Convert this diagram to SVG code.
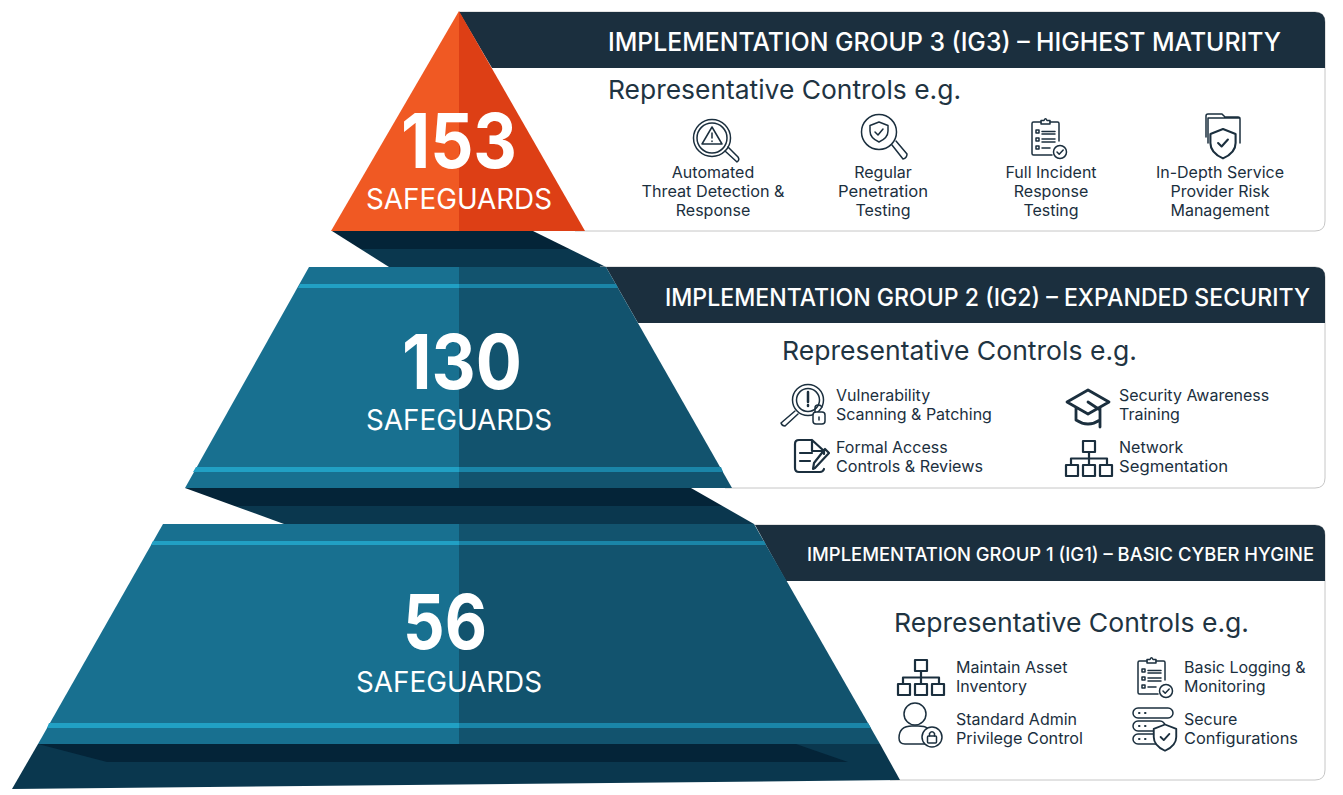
<svg xmlns="http://www.w3.org/2000/svg" width="1343" height="795" viewBox="0 0 1343 795">
<style>
text{font-family:"Inter","Liberation Sans",sans-serif}
.card{fill:#fff;stroke:#c6c6c6;stroke-width:1}
.hd{fill:#1b2f3e}
.ht{fill:#fff;font-weight:500}
.rc{fill:#1f3442;font-size:26px}
.sm{fill:#1b2f3e;font-size:16px}
.c{text-anchor:middle}
.num{fill:#fff;font-size:76px;font-weight:700;text-anchor:middle}
.sg{fill:#fff;font-size:28.500px;text-anchor:middle}
.ic{fill:none;stroke:#1b2f3e;stroke-width:1.5;stroke-linecap:round;stroke-linejoin:round}
.ib{fill:none;stroke:#1b2f3e;stroke-width:2.200;stroke-linecap:round;stroke-linejoin:round}
.tl{fill:#187090}.td{fill:#12536e}.sl{fill:#21a0c4}.sd{fill:#1a85a8}
.s1{fill:#042438}.s2{fill:#0a374e}
</style>
<defs>
<g id="net" class="ib"><rect x="18" y="1" width="12" height="11"/><path d="M24 12V24M6 24V18.500H42V24"/><rect x="1" y="25" width="12" height="11"/><rect x="18" y="25" width="12" height="11"/><rect x="35" y="25" width="12" height="11"/></g>
<g id="clip" class="ic"><path d="M10 5H2.500Q1 5 1 6.500V36.500Q1 38 2.500 38H21M28 24V6.500Q28 5 26.500 5H19"/><path d="M10 7V3.500H13Q14.500 0 16 3.500H19V7Z"/><path d="M5 13h3v3h-3zM5 21h3v3h-3zM5 29h3v3h-3zM11 14.500H24M11 17H24M11 22H24M11 25H24M11 31H19"/><circle cx="29" cy="35" r="6.500" fill="#fff"/><path d="M26 35l2.200 2.300 4-4.300"/></g>
<g id="shield" class="ic"><path d="M0-10L9-6.500V0Q9 7 0 11Q-9 7-9 0V-6.500Z" fill="#fff"/><path d="M-3.500 0L-1 2.500 3.500-2.500"/></g>
</defs>

<g id="connectors">
<polygon class="s2" points="360.500,249 569.500,249 606,267 389,267"/>
<polygon class="s1" points="332,231 533,231 569.500,249 360.500,249"/>
<polygon class="s2" points="234.500,506 722.500,506 754,524 284,524"/>
<polygon class="s1" points="185,488 691,488 722.500,506 234.500,506"/>
</g>

<g id="ig3">
<path class="card" d="M459 12H1315Q1325 12 1325 22V221Q1325 231 1315 231H575Z"/>
<path class="hd" d="M459 12H1315Q1325 12 1325 22V68H492Z"/>
<polygon fill="#f05923" points="459,11 331,231 459,231"/>
<polygon fill="#dd3f15" points="459,11 585,231 459,231"/>
<text class="num" x="459" y="168" textLength="116" lengthAdjust="spacingAndGlyphs">153</text>
<text class="sg" x="459" y="209" textLength="186" lengthAdjust="spacingAndGlyphs">SAFEGUARDS</text>
<text class="ht" x="608" y="51" font-size="25" textLength="673" lengthAdjust="spacingAndGlyphs">IMPLEMENTATION GROUP 3 (IG3) – HIGHEST MATURITY</text>
<text class="rc" x="608" y="99" textLength="353" lengthAdjust="spacingAndGlyphs">Representative Controls e.g.</text>
<g class="ic"><circle cx="712" cy="138" r="18.500"/><circle cx="712" cy="138" r="15"/><path d="M712 127L722 144H702ZM712 133V138M712 141V141.500M725 151L737 162Q740 160 738 157L728 147"/></g>
<g class="ic"><circle cx="879" cy="132" r="17.500"/><path d="M879 122L888 125.500V131Q888 138 879 142Q870 138 870 131V125.500ZM875 132L878 135 883 129M892 145L903 159Q907 158 907 154L896 141"/></g>
<use href="#clip" x="1031" y="117"/>
<g class="ic"><path d="M1206 137V116Q1206 114 1208 114H1222L1225 117H1238Q1240 117 1240 119V143M1208 143V118H1240"/></g><use href="#shield" transform="translate(1223 143) scale(1.400)"/>
<text class="sm c" x="713" y="178">Automated</text><text class="sm c" x="713" y="197" textLength="143" lengthAdjust="spacingAndGlyphs">Threat Detection &amp;</text><text class="sm c" x="713" y="216">Response</text>
<text class="sm c" x="883" y="178">Regular</text><text class="sm c" x="883" y="197" textLength="90" lengthAdjust="spacingAndGlyphs">Penetration</text><text class="sm c" x="883" y="216">Testing</text>
<text class="sm c" x="1051" y="178">Full Incident</text><text class="sm c" x="1051" y="197">Response</text><text class="sm c" x="1051" y="216">Testing</text>
<text class="sm c" x="1220" y="178">In-Depth Service</text><text class="sm c" x="1220" y="197">Provider Risk</text><text class="sm c" x="1220" y="216">Management</text>
</g>

<g id="ig2">
<path class="card" d="M600 267H1315Q1325 267 1325 277V478Q1325 488 1315 488H725Z"/>
<path class="hd" d="M606 267H1315Q1325 267 1325 277V323H638Z"/>
<polygon class="tl" points="309,267 459,267 459,488 185,488"/>
<polygon class="td" points="459,267 606,267 732,488 459,488"/>
<polygon class="sl" points="300,284 459,284 459,288 298,288"/>
<polygon class="sd" points="459,284 616,284 618,288 459,288"/>
<polygon class="sl" points="196,467 459,467 459,472 193,472"/>
<polygon class="sd" points="459,467 721,467 723,472 459,472"/>
<text class="num" x="462" y="389" textLength="120" lengthAdjust="spacingAndGlyphs">130</text>
<text class="sg" x="459" y="430" textLength="186" lengthAdjust="spacingAndGlyphs">SAFEGUARDS</text>
<text class="ht" x="665" y="306" font-size="24" textLength="645" lengthAdjust="spacingAndGlyphs">IMPLEMENTATION GROUP 2 (IG2) – EXPANDED SECURITY</text>
<text class="rc" x="782" y="360" textLength="355" lengthAdjust="spacingAndGlyphs">Representative Controls e.g.</text>
<g class="ic"><circle cx="808" cy="400" r="15.500"/><circle cx="808" cy="400" r="11.500"/><path d="M795 411L781 423Q782 426 785 426L798 414"/><path d="M808 392V402M808 405V406" stroke-width="2.500"/><rect x="813" y="412" width="12" height="12" rx="3" fill="#fff"/><path d="M815 412V408Q815 405 818 405Q821 405 822 407M819 417V420"/></g>
<g class="ib" style="stroke-width:2.800"><path d="M1088 390L1109 402 1088 414 1067 402ZM1076 408V420Q1088 428 1100 420V408M1088 402L1100 410V427"/></g>
<g class="ib"><path d="M812 440H799Q795 440 795 444V468Q795 472 799 472H820Q823 472 824 469M812 440L824 451V454M812 440V451H824M800 453H812M800 461H810M815 468L829 453 825 449 814 463 813 469Z"/></g>
<use href="#net" x="1065" y="440"/>
<text class="sm" x="836" y="401">Vulnerability</text><text class="sm" x="836" y="420">Scanning &amp; Patching</text>
<text class="sm" x="836" y="453">Formal Access</text><text class="sm" x="836" y="472" textLength="147" lengthAdjust="spacingAndGlyphs">Controls &amp; Reviews</text>
<text class="sm" x="1119" y="401">Security Awareness</text><text class="sm" x="1119" y="420">Training</text>
<text class="sm" x="1119" y="453">Network</text><text class="sm" x="1119" y="472" textLength="109" lengthAdjust="spacingAndGlyphs">Segmentation</text>
</g>

<g id="ig1">
<path class="card" d="M750 525H1315Q1325 525 1325 535V770Q1325 780 1315 780H890Z"/>
<path class="hd" d="M755 525H1315Q1325 525 1325 535V581H786Z"/>
<polygon class="s2" points="38,744 880,744 900,780 12,789"/>
<polygon class="s1" points="38,744 796,744 848,762 107,762"/>
<polygon class="tl" points="163,524 459,524 459,744 38,744"/>
<polygon class="td" points="459,524 754,524 880,744 459,744"/>
<polygon class="sl" points="153,541 459,541 459,545 151,545"/>
<polygon class="sd" points="459,541 764,541 766,545 459,545"/>
<polygon class="sl" points="49,723 459,723 459,728 47,728"/>
<polygon class="sd" points="459,723 868,723 871,728 459,728"/>
<text class="num" x="445" y="649" textLength="84" lengthAdjust="spacingAndGlyphs">56</text>
<text class="sg" x="449" y="692" textLength="186" lengthAdjust="spacingAndGlyphs">SAFEGUARDS</text>
<text class="ht" x="807" y="561" font-size="19" textLength="507" lengthAdjust="spacingAndGlyphs">IMPLEMENTATION GROUP 1 (IG1) – BASIC CYBER HYGINE</text>
<text class="rc" x="894" y="632" textLength="355" lengthAdjust="spacingAndGlyphs">Representative Controls e.g.</text>
<use href="#net" x="897" y="659"/>
<use href="#clip" x="1137" y="656"/>
<g class="ic"><circle cx="915" cy="714" r="11"/><path d="M926 744H905Q899 744 899 738Q899 726 912 726H918Q925 726 927 728"/><circle cx="932" cy="737" r="10" fill="#fff"/><rect x="927.500" y="736" width="9" height="7" rx="1"/><path d="M929.500 736V733.500Q932 730 934.500 733.500V736"/></g>
<g class="ic"><rect x="1133" y="708" width="40" height="10" rx="5"/><rect x="1133" y="721" width="32" height="10" rx="5"/><rect x="1133" y="734" width="28" height="10" rx="5"/><path d="M1139 713h.5M1145 713h.5M1139 726h.5M1145 726h.5M1139 739h.5M1145 739h.5" stroke-width="2"/></g><use href="#shield" transform="translate(1165 737) scale(1.250)"/>
<text class="sm" x="956" y="673">Maintain Asset</text><text class="sm" x="956" y="692">Inventory</text>
<text class="sm" x="956" y="725">Standard Admin</text><text class="sm" x="956" y="744" textLength="127" lengthAdjust="spacingAndGlyphs">Privilege Control</text>
<text class="sm" x="1184" y="673">Basic Logging &amp;</text><text class="sm" x="1184" y="692">Monitoring</text>
<text class="sm" x="1184" y="725">Secure</text><text class="sm" x="1184" y="744" textLength="114" lengthAdjust="spacingAndGlyphs">Configurations</text>
</g>
</svg>
